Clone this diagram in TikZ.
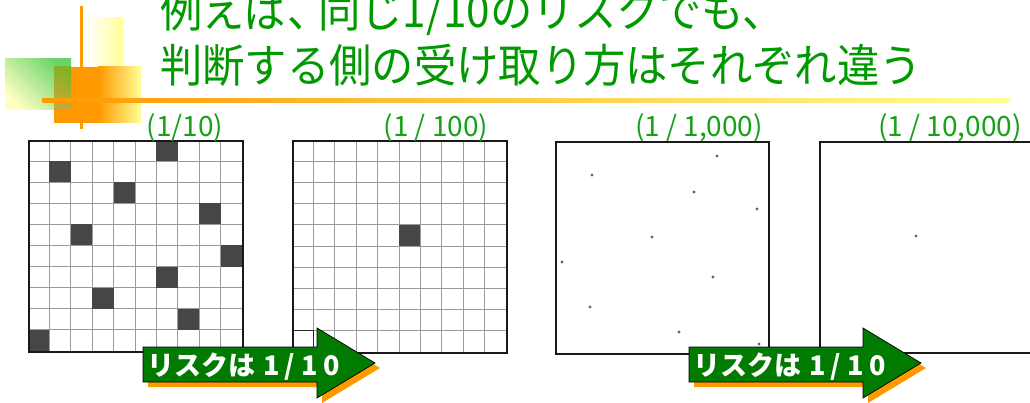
\documentclass[tikz,border=0pt]{standalone}
\usepackage{fontspec}
\usepackage{graphicx}
\newfontfamily\jp{Noto Sans CJK JP}
\definecolor{titlegreen}{RGB}{0,153,0}
\definecolor{labgreen}{RGB}{25,160,25}
\definecolor{orng}{RGB}{255,153,0}
\definecolor{paleyel}{RGB}{255,255,150}
\definecolor{decogreen}{RGB}{105,212,105}
\definecolor{decoyel}{RGB}{255,255,195}
\definecolor{olivetop}{RGB}{130,178,35}
\definecolor{olivebot}{RGB}{200,168,60}
\definecolor{arrgreen}{RGB}{0,122,0}
\definecolor{cellgray}{RGB}{70,70,70}
\definecolor{linegray}{RGB}{155,155,155}
\begin{document}
\begin{tikzpicture}[x=1pt,y=-1pt,
  titletext/.style={text=titlegreen, font=\jp\fontsize{45.5}{50}\selectfont, inner sep=0, anchor=base west},
  ratio/.style={text=labgreen, font=\jp\fontsize{28}{30}\selectfont, inner sep=0, anchor=base},
  gridline/.style={draw=linegray, line width=0.9pt},
  frame/.style={draw=black!90, line width=2pt, inner sep=0, anchor=north west},
  darkcell/.style={fill=cellgray},
  dot/.style={fill=black!60, circle, inner sep=0, minimum size=3.2pt},
  arrowbody/.style={fill=arrgreen, draw=black, line width=0.7pt},
  arrowshadow/.style={fill=orng},
  arrowtext/.style={text=white, font=\jp\bfseries\fontsize{27}{30}\selectfont, inner sep=0, anchor=base west}]

\useasboundingbox[fill=white] (0,0) rectangle (1030,403);

% decoration
\fill[left color=white, right color=paleyel] (86,18) rectangle (123,67);
\fill[top color=decogreen, bottom color=decoyel, shading angle=-45] (5,59) rectangle (71,110);
\fill[orng] (71,67) rectangle (98.5,123);
\fill[orng] (54,110) rectangle (71.5,123);
\fill[top color=olivetop, bottom color=olivebot, shading angle=-30] (54,67) rectangle (71,110);
\fill[left color=orng, right color=paleyel] (98,67) rectangle (141,123);
\fill[orng] (80,6) rectangle (83,129);
\fill[left color=orng, right color=paleyel] (42,99) rectangle (1010,102.5);

% title
\node[titletext] (title1) at (160,28) {\scalebox{0.93}[1]{例えば、\kern-12pt同じ1/10のリスクでも、}};
\node[titletext] (title2) at (160,83) {\scalebox{0.93}[1]{判断する側の受け取り方はそれぞれ違う}};

% grid 1 : 1/10
\begin{scope}[shift={(28,140)}, x=21.4pt, y=-21.1pt]
  \foreach \i in {1,...,9} {
    \draw[gridline] (\i,0) -- (\i,10);
    \draw[gridline] (0,\i) -- (10,\i);
  }
  \foreach \c/\r in {6/0,1/1,4/2,8/3,2/4,9/5,6/6,3/7,7/8,0/9}
    \fill[darkcell] (\c,\r) rectangle ++(1,1);
  \node[frame, minimum width=214pt, minimum height=211pt] (grid1) at (0,0) {};
\end{scope}

% grid 2 : 1/100
\begin{scope}[shift={(292,140)}, x=21.4pt, y=-21.2pt]
  \foreach \i in {1,...,9} {
    \draw[gridline] (\i,0) -- (\i,10);
    \draw[gridline] (0,\i) -- (10,\i);
  }
  \fill[darkcell] (5,4) rectangle ++(1,1);
  \draw[black!85, line width=1pt] (0,9) rectangle (1,10);
  \node[frame, minimum width=214pt, minimum height=212pt] (grid2) at (0,0) {};
\end{scope}

% grid 3 : 1/1,000
\node[frame, minimum width=213pt, minimum height=212pt] (grid3) at (555,141) {};
\foreach \p [count=\k] in {(592,175),(717,156),(694,192),(757,209),(652,237),(562,262),(713,277),(590,307),(679,332),(759,344)}
  \node[dot] (d\k) at \p {};

% grid 4 : 1/10,000
\node[frame, minimum width=214pt, minimum height=211pt] (grid4) at (819,141) {};
\node[dot] (e1) at (916,236) {};

% ratio labels
\node[ratio] (r1) at (185,137) {(1/10)};
\node[ratio] (r2) at (436,137) {(1 / 100)};
\node[ratio] (r3) at (699,137) {(1 / 1,000)};
\node[ratio] (r4) at (950,137) {(1 / 10,000)};

% arrows
\foreach \dx/\nm in {0/arrowA, 546/arrowB} {
  \begin{scope}[xshift=\dx pt]
    \fill[arrowshadow, shift={(5,5)}] (143,347) -- (317,347) -- (317,328) -- (375,363) -- (317,398) -- (317,382) -- (143,382) -- cycle;
    \filldraw[arrowbody] (143,347) -- (317,347) -- (317,328) -- (375,363) -- (317,398) -- (317,382) -- (143,382) -- cycle;
    \node[arrowtext] (\nm) at (147,375) {リスクは\kern8pt1\kern5pt/\kern6pt1\kern6pt0};
  \end{scope}
}
\end{tikzpicture}
\end{document}
